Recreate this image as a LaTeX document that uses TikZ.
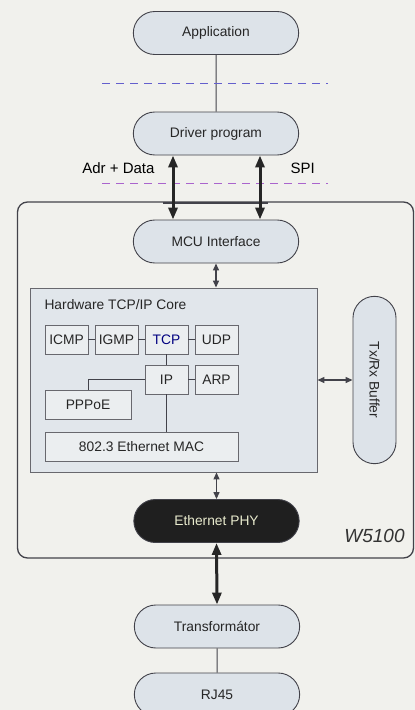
\documentclass[tikz,border=0pt]{standalone}
\usepackage{fontspec}
\setmainfont{Liberation Sans}
\usetikzlibrary{shapes.misc, arrows.meta, positioning}
\definecolor{pillfill}{RGB}{221,227,233}
\definecolor{corefill}{RGB}{225,230,235}
\definecolor{blkfill}{RGB}{235,238,240}
\definecolor{linegray}{RGB}{66,66,74}
\definecolor{dashblue}{RGB}{100,95,205}
\definecolor{dashpurple}{RGB}{170,100,205}
\definecolor{phytext}{RGB}{232,234,205}
\definecolor{paper}{RGB}{241,241,237}

\begin{document}
\begin{tikzpicture}[
    x=1pt, y=-1pt,
    font=\fontsize{13.8}{16}\selectfont,
    pill/.style={draw=linegray, line width=0.9pt, rounded rectangle, minimum width=172pt,
                 minimum height=43pt, fill=pillfill, text=black!85},
    blk/.style={draw=linegray!80, line width=0.9pt, fill=blkfill, minimum width=43pt,
                minimum height=29pt, inner sep=0pt, text=black!85},
    link/.style={draw=linegray, line width=1pt},
    bigarrow/.style={draw=black!85, line width=3pt,
                     {Triangle[width=9pt,length=12pt]}-{Triangle[width=9pt,length=12pt]}},
    smallarrow/.style={draw=linegray, line width=1.3pt,
                       {Triangle[width=6pt,length=7pt]}-{Triangle[width=6pt,length=7pt]}},
    sep/.style={dash pattern=on 8pt off 6pt, line width=0.9pt}
]
    \path[use as bounding box, fill=paper] (0,0) rectangle (415,710);

    % chip outline
    \node[draw=linegray, line width=1.3pt, rounded corners=10pt, minimum width=396pt,
          minimum height=356pt, inner sep=0pt] (chip) at (215.5,380) {};
    \node[anchor=south east, font=\fontsize{19}{21}\selectfont\itshape, text=black!80]
        at ([xshift=-6pt,yshift=12pt]chip.south east) {W5100};

    % host side
    \node[pill] (app) at (216,33) {Application};
    \node[pill] (drv) at (216,133.5) {Driver program};
    \draw[link] (app) -- (drv);
    \draw[sep, dashblue] (102,83) -- (328,83);
    \draw[sep, dashpurple] (102,183) -- (328,183);

    \node[pill] (mcu) at (216,241.5) {MCU Interface};
    \draw[line width=1.8pt, linegray] (163,203) -- (268,203);
    \draw[bigarrow] ([xshift=-43pt]drv.south) -- ([xshift=-43pt]mcu.north);
    \draw[bigarrow] ([xshift=44pt]drv.south) -- ([xshift=44pt]mcu.north);
    \node[anchor=east, font=\fontsize{15}{17}\selectfont] (adr) at (158,168) {Adr + Data};
    \node[anchor=west, font=\fontsize{15}{17}\selectfont] (spi) at (287,168) {SPI};

    % TCP/IP core
    \node[draw=linegray!80, line width=0.9pt, fill=corefill, minimum width=287pt,
          minimum height=184pt, inner sep=0pt] (core) at (173.5,380) {};
    \node[anchor=west, text=black!85] at (41,305) {Hardware TCP/IP Core};
    \node[blk] (icmp) at (66.5,339.5) {ICMP};
    \node[blk] (igmp) at (116.5,339.5) {IGMP};
    \node[blk, text=blue!50!black] (tcp) at (166.5,339.5) {TCP};
    \node[blk] (udp) at (216.5,339.5) {UDP};
    \node[blk] (ip) at (166.5,379.5) {IP};
    \node[blk] (arp) at (216.5,379.5) {ARP};
    \node[blk, minimum width=86pt] (pppoe) at (88,405) {PPPoE};
    \node[blk, minimum width=193pt] (mac) at (141.5,447) {802.3 Ethernet MAC};
    \draw[link] (icmp) -- (igmp);
    \draw[link] (igmp) -- (tcp);
    \draw[link] (tcp) -- (udp);
    \draw[link] (tcp) -- (ip);
    \draw[link] (ip) -- (arp);
    \draw[link] (ip.west) -| (pppoe.north);
    \draw[link] (ip.south) -- (ip.south |- mac.north);

    \node[pill, rotate=-90, minimum width=174pt] (buf) at (374.5,380) {Tx/Rx Buffer};
    \draw[smallarrow] (core.east |- buf.center) -- (buf.south);
    \draw[smallarrow] (mcu.south) -- (mcu.south |- core.north);

    % line side
    \node[pill, fill=black!88, text=phytext] (phy) at (216.5,521) {Ethernet PHY};
    \draw[smallarrow] (phy.north |- core.south) -- (phy.north);
    \node[pill] (trafo) at (217,626.5) {Transformátor};
    \draw[bigarrow] (phy.south) -- (trafo.north);
    \node[pill] (rj) at (217,694.5) {RJ45};
    \draw[link] (trafo) -- (rj);
\end{tikzpicture}
\end{document}
